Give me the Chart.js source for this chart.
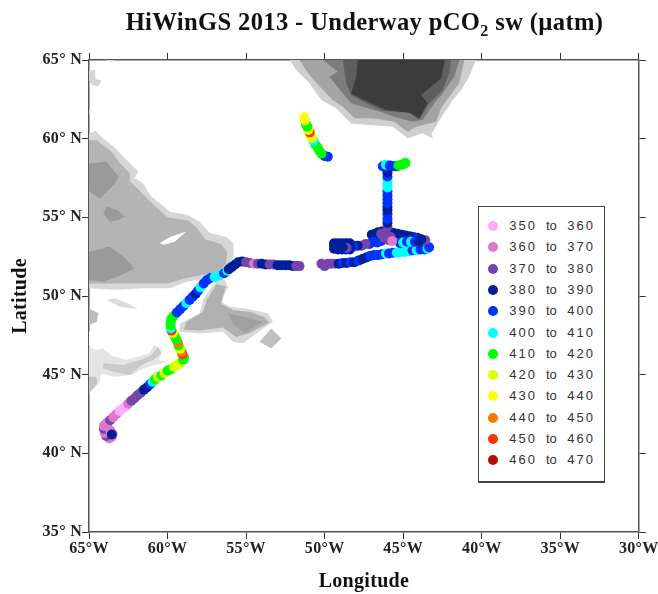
<!DOCTYPE html>
<html>
<head>
<meta charset="utf-8">
<title>HiWinGS 2013</title>
<script src="https://cdn.jsdelivr.net/npm/chart.js@4/dist/chart.umd.min.js"></script>
<style>
html,body{margin:0;padding:0;background:#fff;}
#wrap{position:relative;width:658px;height:594px;overflow:hidden;}
#title{position:absolute;left:0;top:8px;width:729px;text-align:center;font:bold 24.6px "Liberation Serif",serif;color:#111;white-space:nowrap;letter-spacing:.35px;}
#title sub{font-size:16px;line-height:0;}
#legend{position:absolute;left:478px;top:206px;width:125px;height:274px;border:1px solid #444;border-bottom-width:2px;background:#fff;}
#legend div{position:absolute;left:0;width:125px;height:20px;font:13px "Liberation Sans",sans-serif;color:#333;letter-spacing:2px;line-height:20px;}
#legend i{position:absolute;left:9px;top:5px;width:10px;height:10px;border-radius:50%;}
#legend span{position:absolute;top:0;}
</style>
</head>
<body>
<div id="wrap">
<canvas id="map" width="658" height="594"></canvas>
<div id="title">HiWinGS 2013 - Underway pCO<sub>2</sub> sw (µatm)</div>
<div id="legend"></div>
</div>
<script>
/* DATA */
const lonTicks=[-65,-60,-55,-50,-45,-40,-35,-30];
const lonLabels=["65°W","60°W","55°W","50°W","45°W","40°W","35°W","30°W"];
const latTicks=[35,40,45,50,55,60,65];
const latLabels=["35° N","40° N","45° N","50° N","55° N","60° N","65° N"];

const binLow=[350,360,370,380,390,400,410,420,430,440,450,460];
const binHigh=[360,370,380,390,400,410,420,430,440,450,460,470];
const binColors=["#ffaaff","#dd77cc","#7744aa","#001f99","#0033ff","#00ffff","#00ff00","#ddff00","#ffff00","#ff7700","#ff3300","#aa1100"];

const trackLon=[
 -63.55,-63.7,-63.9,-64,-64.05,-64.05,-63.85,-63.65,-63.5,-63.55,
 -63.85,-63.65,-63.45,-63.25,-63.05,-62.85,-62.65,-62.5,-62.3,-62.1,-61.9,-61.7,-61.5,-61.3,-61.1,-60.95,-60.8,-60.6,-60.4,-60.2,-60,-59.8,-59.6,-59.4,-59.2,-59,
 -58.95,-59.05,-59.1,-59.2,-59.3,-59.35,-59.45,-59.55,-59.65,-59.75,-59.8,-59.8,-59.8,-59.75,-59.6,-59.4,-59.2,-59,-58.8,-58.6,-58.4,-58.2,-58.05,-57.9,-57.7,-57.5,-57.25,-57,-56.7,-56.4,-56.2,
 -56.1,-55.9,-55.7,-55.5,-55.25,-55,-54.75,-54.5,-54.25,-54,-53.75,-53.5,-53.25,-53,-52.75,-52.5,-52.25,-52,-51.8,-51.6,
 -50.2,-50,-49.8,-49.6,-49.35,-49.1,-48.85,-48.6,-48.35,-48.1,-47.85,-47.6,-47.35,-47.1,-46.85,-46.6,-46.35,-46.1,-45.9,-45.65,-45.4,-45.15,-44.9,-44.65,-44.4,-44.15,-43.9,-43.65,-43.45,-43.35,
 -43.6,-43.85,-44.1,-44.35,-44.6,-44.85,-45.1,-45.35,-45.6,-45.85,-46.1,-46.35,-46.6,-46.8,-47,-46.7,-46.4,
 -45.2,-45,-44.75,-44.5,-44.25,-44,
 -48.4,-48.65,-48.9,-49.15,-49.4,-49.4,-49.4,-49.15,-48.9,-48.65,-48.4,-48.15,-49.15,-48.9,-48.65,-48.4,
 -46.4,-46.65,-46.9,-47.15,-47.4,-47.65,-47.9,-48.15,-48.35,-48.6,-48.85,
 -46.4,-46,-45.8,-46.2,-45.9,-45.7,
 -46,-46,-46,-46,-46,-46,-46,-46,-46,-46,-46,-46,-46,-46,-46,-46,-46.15,-46.3,-46.1,-45.85,-45.6,-45.4,-45.3,-45.1,-44.95,-44.85,
 -49.8,-50,-50.2,-50.35,-50.45,-50.6,-50.7,-50.8,-50.9,-50.95,-51.05,-51.1,-51.2,-51.25,-51.3
];
const trackLat=[
 41.05,40.95,41.1,41.3,41.55,41.75,41.7,41.45,41.25,41.2,
 41.95,42.1,42.3,42.5,42.7,42.85,43,43.15,43.35,43.5,43.7,43.85,44.05,44.2,44.4,44.55,44.7,44.85,44.95,45.1,45.25,45.35,45.5,45.6,45.75,45.95,
 46.1,46.3,46.45,46.65,46.85,47.05,47.25,47.45,47.65,47.8,47.95,48.15,48.35,48.55,48.75,48.95,49.15,49.35,49.55,49.75,49.95,50.15,50.35,50.55,50.8,51,51.15,51.2,51.3,51.45,51.6,
 51.7,51.85,52,52.15,52.2,52.15,52.1,52.05,52.05,52.05,52,52,52,51.95,51.95,51.95,51.95,51.9,51.9,51.9,
 52.05,51.9,52.05,52.05,52.05,52.05,52.1,52.1,52.15,52.15,52.25,52.35,52.45,52.55,52.6,52.6,52.65,52.7,52.7,52.75,52.75,52.8,52.8,52.85,52.9,52.9,52.95,52.95,53,53.1,
 53.55,53.6,53.7,53.75,53.8,53.85,53.9,53.95,54,54.05,54.1,54.1,54.05,53.95,53.9,53.8,53.85,
 53.35,53.4,53.45,53.45,53.45,53.45,
 53.35,53.35,53.35,53.35,53.35,53.2,53,52.95,52.95,52.95,52.95,53.2,53.2,53.2,53.2,53.2,
 53.5,53.4,53.45,53.3,53.3,53.2,53.2,53.15,53.15,53.05,53.1,
 53.95,53.85,53.75,53.7,53.55,53.5,
 54.4,54.65,54.9,55.2,55.45,55.65,55.9,56.15,56.4,56.65,56.9,57.1,57.35,57.6,57.85,58.05,58.2,58.25,58.35,58.3,58.25,58.25,58.3,58.35,58.4,58.45,
 58.85,58.9,59.05,59.25,59.45,59.65,59.85,60.05,60.2,60.4,60.55,60.75,60.95,61.15,61.35
];
const trackPco2=[
 365,365,375,365,375,365,365,365,365,385,
 365,375,365,365,355,355,355,365,375,375,375,375,385,385,395,405,415,425,415,425,415,415,425,425,425,415,
 415,455,445,425,415,445,415,415,425,455,405,415,415,415,415,395,395,395,405,395,395,385,395,405,395,395,395,405,405,395,405,
 385,385,385,385,385,375,375,365,375,385,385,375,375,385,385,385,385,385,375,375,
 375,375,375,375,375,385,395,385,395,385,395,385,385,395,395,395,395,405,395,395,405,405,405,405,395,405,395,395,405,395,
 375,385,385,395,385,385,385,385,385,385,385,385,385,385,385,385,385,
 395,405,395,405,395,385,
 385,385,385,385,385,385,385,385,385,385,385,385,385,385,385,385,
 395,395,395,395,375,375,385,395,385,375,385,
 375,375,375,375,375,365,
 375,385,395,395,385,385,395,395,395,395,405,405,405,395,385,385,395,395,405,395,395,395,415,415,415,415,
 395,395,415,415,415,415,405,435,425,455,435,415,415,425,435
];

const labradorOuter=[[-65,60.3],[-64.6,60.5],[-64.2,60.1],[-63.45,59.5],[-62.8,58.85],[-61.85,57.9],[-62.1,57.5],[-61.55,57.15],[-61.1,56.4],[-60.5,55.9],[-59.85,55.35],[-58.7,55.15],[-57.95,54.7],[-57.3,54],[-56.25,53.75],[-55.8,53.35],[-55.8,52.5],[-56.25,51.75],[-56.7,51.35],[-57.5,51.1],[-58.8,50.9],[-59.85,50.5],[-61.55,50.5],[-63.25,50.4],[-65,50.5]];
const labradorMid=[[-65,59.9],[-64.5,59.9],[-63.6,59.2],[-63,58.4],[-62.4,57.8],[-62.4,57.3],[-61.9,56.8],[-61.4,56.3],[-60.8,55.7],[-60,55],[-58.7,54.8],[-58.2,54.4],[-57.6,53.6],[-56.6,53.3],[-56.2,52.8],[-56.3,52],[-56.9,51.5],[-58,51.3],[-59,51.1],[-60,50.8],[-62,50.8],[-65,50.8]];
const labradorDarkSouth=[[-65,52.8],[-63.7,53.15],[-62.8,52.5],[-62.1,51.75],[-62.9,51.35],[-64.05,50.9],[-65,51]];
const labradorDarkNorth=[[-65,58.4],[-63.9,58.55],[-63.1,57.6],[-63.35,57.15],[-64.3,56.2],[-65,56.65]];
const labradorDarkMiddle=[[-63.9,55.7],[-63.2,55.45],[-62.7,55.05],[-63.1,54.85],[-63.65,54.7],[-64.1,55.25]];
const labradorLake=[[-60.5,53.35],[-59.85,53.75],[-58.8,54.1],[-59.55,53.45],[-60.2,53.25]];
const baffinIslet=[[-65,64.3],[-64.6,64.4],[-64.6,63.8],[-64.2,63.7],[-64.4,63.35],[-64.8,63.4],[-65,63.7]];
const topIslet=[[-63.9,65],[-63.35,65],[-63.6,64.85]];
const shoreIslet=[[-65,61.85],[-64.85,61.7],[-65,61.55]];
const shoreGap=[[-65,47.8],[-64.8,47.5],[-64.8,47],[-65,46.78]];

const greenlandOuter=[[-52.23,65],[-51.81,64.36],[-50.96,63.52],[-50.22,62.46],[-49.27,61.93],[-48.31,60.97],[-47.15,60.87],[-45.66,60.76],[-44.71,60.02],[-43.76,60.34],[-43.1,60],[-43.2,60.3],[-42.49,61.5],[-42.17,61.93],[-41.85,62.46],[-41.3,63.1],[-40.8,63.94],[-40.37,65]];
const greenlandMid=[[-51.6,65],[-51.06,64.15],[-50.3,63.3],[-49.48,62.46],[-48.84,62.03],[-48.1,61.3],[-46.94,61.3],[-45.56,61.08],[-44.71,60.44],[-44.18,60.76],[-42.9,61.08],[-42.6,61.93],[-42.07,62.67],[-41.43,63.52],[-41.1,65]];
const greenlandHigh=[[-50.1,65],[-49.16,64.26],[-49.69,63.94],[-48.84,62.88],[-48.31,62.25],[-47.57,62.03],[-46.51,61.72],[-45.56,61.4],[-44.4,61.08],[-43.76,61.19],[-43.02,62.25],[-42.49,62.88],[-41.75,63.94],[-41.43,65]];
const greenlandHigher=[[-48.84,65],[-48.63,63.52],[-48.31,62.77],[-47.36,62.25],[-46.3,61.78],[-44.6,61.65],[-43.97,61.19],[-43.44,62.14],[-42.49,63.09],[-42.07,64.15],[-41.96,65]];
const greenlandTop=[[-47.89,65],[-47.99,63.94],[-48.31,62.88],[-47.68,62.56],[-46.09,61.82],[-44.6,61.65],[-43.97,61.29],[-43.44,62.25],[-43.87,62.77],[-42.59,63.83],[-42.34,65]];

const newfoundlandOuter=[[-56.89,51.01],[-56.36,51.01],[-56.15,50.59],[-56.57,49.64],[-56.04,49.32],[-54.98,49.21],[-53.61,48.9],[-53.29,48.37],[-53.92,47.94],[-55.19,46.99],[-55.83,47.09],[-56.47,47.73],[-57.95,47.62],[-59.22,47.73],[-59.22,48.26],[-57.95,48.9],[-57.74,49.74],[-57.31,50.38]];
const newfoundlandMid=[[-56.89,50.75],[-56.3,50.6],[-56.6,49.5],[-55.83,49.1],[-54.77,49],[-53.82,48.65],[-53.55,48.3],[-54.77,47.65],[-55.62,47.4],[-56.47,48],[-57.95,47.8],[-58.95,47.85],[-58.8,48.35],[-57.74,49],[-57.5,49.74]];
const newfoundlandDark=[[-56.15,48.9],[-54.77,48.58],[-53.92,48.37],[-55.09,47.62],[-55.83,48.26]];
const avalon=[[-54.14,47.1],[-53.4,47.94],[-52.76,47.3],[-53.4,46.67]];
const anticosti=[[-63.88,49.74],[-63.35,49.85],[-62.5,49.53],[-61.87,49.15],[-63.03,49.32]];
const gaspe=[[-65,49.21],[-64.4,48.9],[-64.5,48.37],[-65,48.15]];
const novaScotiaOuter=[[-65,46.78],[-64.56,46.56],[-64.14,46.67],[-63.61,46.25],[-62.66,45.93],[-61.18,46.35],[-60.86,46.88],[-60.33,46.56],[-60.54,45.93],[-60,45.82],[-61.49,45.4],[-62.33,44.97],[-63.39,44.87],[-64.24,45.08],[-64.35,44.45],[-65,43.81]];
const novaScotiaMid=[[-64.09,45.72],[-62.82,45.61],[-61.76,45.93],[-61.02,46.25],[-60.6,46.78],[-60.39,46.35],[-60.91,45.93],[-61.65,45.61],[-62.39,44.98],[-63.45,45.19],[-64.09,45.4]];
const novaScotiaWest=[[-65,44.87],[-64.56,44.87],[-64.45,44.5],[-65,43.81]];

/* land layers in painting order: polygon, fill colour */
const landLayers=[
 [labradorOuter,"#d6d6d6"],[labradorMid,"#b4b4b4"],[labradorDarkSouth,"#9a9a9a"],[labradorDarkNorth,"#9a9a9a"],[labradorDarkMiddle,"#9a9a9a"],[labradorLake,"#ffffff"],[baffinIslet,"#d4d4d4"],[topIslet,"#dddddd"],[shoreIslet,"#e0e0e0"],
 [greenlandOuter,"#cfcfcf"],[greenlandMid,"#a4a4a4"],[greenlandHigh,"#7c7c7c"],[greenlandHigher,"#5e5e5e"],[greenlandTop,"#3c3c3c"],
 [newfoundlandOuter,"#d8d8d8"],[newfoundlandMid,"#b0b0b0"],[newfoundlandDark,"#a0a0a0"],[avalon,"#c0c0c0"],[anticosti,"#dcdcdc"],[gaspe,"#bcbcbc"],
 [novaScotiaOuter,"#e4e4e4"],[novaScotiaMid,"#cacaca"],[novaScotiaWest,"#c4c4c4"],[shoreGap,"#ffffff"]
];

/* LEGEND */
const legendBox=document.getElementById("legend");
binLow.forEach((low,i)=>{
    let row=document.createElement("div");
    row.style.top=(9+i*21.3)+"px";
    row.innerHTML='<i style="background:'+binColors[i]+'"></i>'+
        '<span style="right:67px">'+low+'</span><span style="left:67px;letter-spacing:0">to</span><span style="right:9px">'+binHigh[i]+'</span>';
    legendBox.appendChild(row);
});

/* CHART */
function binColor(v){
    return binColors[binLow.findIndex((low,i)=>v>=low&&v<binHigh[i])];
}

let datasets=landLayers.map((layer,i)=>({
    data:layer[0].map(p=>({x:p[0],y:p[1]})),
    showLine:true,
    fill:"shape",
    tension:0,
    borderWidth:0,
    borderColor:layer[1],
    backgroundColor:layer[1],
    pointRadius:0,
    clip:1.5,
    order:100-i
}));
let trackPoints=trackLon.map((lon,i)=>({x:lon,y:trackLat[i],v:trackPco2[i]}));
datasets.push({
    data:trackPoints,
    pointRadius:5,
    pointBorderWidth:0,
    pointBackgroundColor:trackPoints.map(p=>binColor(p.v)),
    order:0
});

function axisOptions(position,min,max,ticks,labels,size,showLabels,title,titlePad){
    return {
        type:"linear",
        position:position,
        min:min,
        max:max,
        afterBuildTicks:s=>{s.ticks=ticks.map(v=>({value:v}));},
        afterFit:s=>{
            if(s.isHorizontal())s.height=size;
            else s.width=size;
        },
        grid:{drawOnChartArea:false,drawTicks:true,tickLength:7,color:"#333",lineWidth:1},
        border:{display:true,color:"#555",width:1.5},
        ticks:{
            display:showLabels,
            autoSkip:false,
            maxRotation:0,
            padding:0,
            color:"#222",
            font:{family:"Liberation Serif",size:16,weight:"bold"},
            callback:(v,i)=>labels[i]
        },
        title:title?{display:true,text:title,color:"#111",padding:titlePad,font:{family:"Liberation Serif",size:20,weight:"bold"}}:{display:false}
    };
}

new Chart(document.getElementById("map"),{
    type:"scatter",
    data:{datasets:datasets},
    options:{
        responsive:false,
        animation:false,
        events:[],
        layout:{padding:0},
        plugins:{legend:{display:false},tooltip:{enabled:false},title:{display:false}},
        scales:{
            x:axisOptions("bottom",-65,-30,lonTicks,lonLabels,62,true,"Longitude",{top:0,bottom:0}),
            y:axisOptions("left",35,65,latTicks,latLabels,89,true,"Latitude",{top:9,bottom:0}),
            xTop:axisOptions("top",-65,-30,lonTicks,lonLabels,60,false,""),
            yRight:axisOptions("right",35,65,latTicks,latLabels,18,false,"")
        }
    },
    plugins:[{
        id:"spacing",
        beforeDraw:c=>{c.ctx.letterSpacing="0.3px";}
    }]
});
</script>
</body>
</html>
